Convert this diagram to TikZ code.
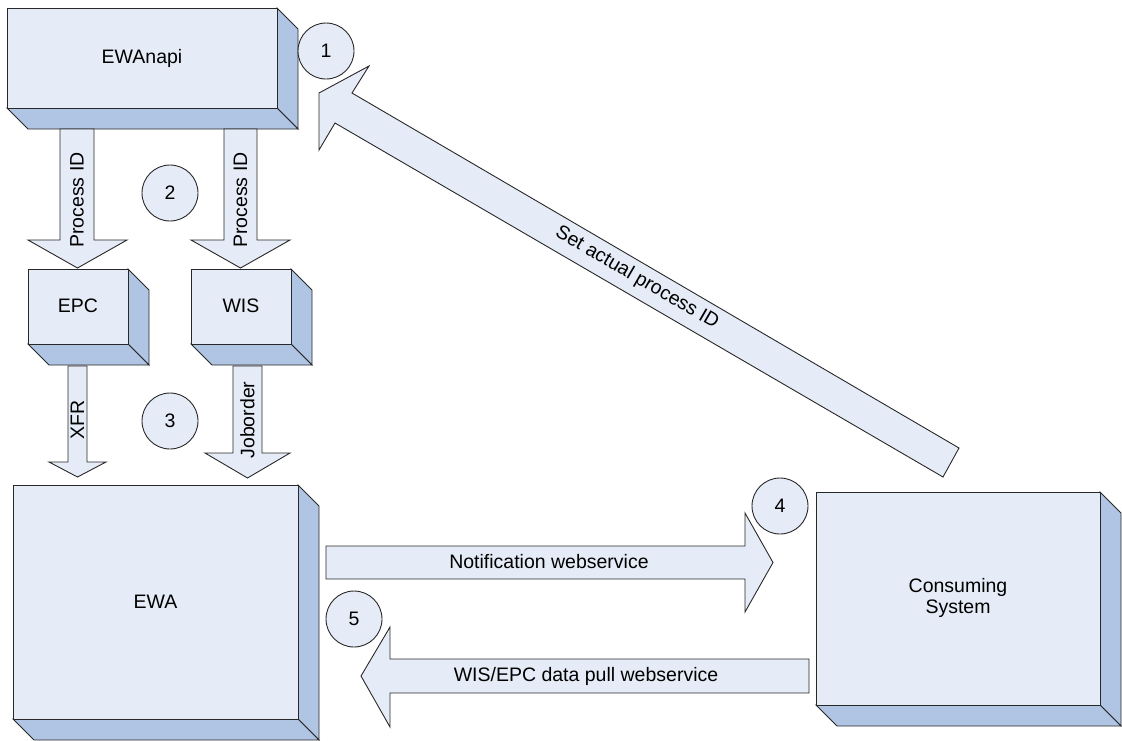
\documentclass[tikz,border=0pt]{standalone}
\usepackage{fontspec}
\setmainfont{Liberation Sans}
\definecolor{facecol}{RGB}{230,236,247}
\definecolor{sidecol}{RGB}{176,197,227}
\definecolor{linecol}{RGB}{40,40,40}
\begin{document}
\begin{tikzpicture}[x=1pt,y=-1pt,
  outl/.style={draw=linecol,line width=0.9pt,line join=miter},
  face/.style={outl,fill=facecol},
  side/.style={outl,fill=sidecol},
  blockarrow/.style={outl,fill=facecol},
  lbl/.style={font=\fontsize{19.5}{22}\selectfont,inner sep=0pt,align=center},
  numcirc/.style={circle,outl,fill=facecol,minimum size=56pt,inner sep=0pt,font=\fontsize{19.5}{22}\selectfont}
]
\useasboundingbox (0,0) rectangle (1122,740);

% 3D box macro: x1,y1,x2,y2,depth
\newcommand{\threedbox}[5]{%
  \draw[side] (#3,#2) -- (#3+#5,#2+#5) -- (#3+#5,#4+#5) -- (#3,#4) -- cycle;
  \draw[side] (#1,#4) -- (#3,#4) -- (#3+#5,#4+#5) -- (#1+#5,#4+#5) -- cycle;
  \draw[face] (#1,#2) rectangle (#3,#4);
}

% boxes
\threedbox{7}{8}{277}{108}{21}
\node[lbl] (ewanapi) at (142,58) {EWAnapi};
\threedbox{28}{269}{128}{344}{21}
\node[lbl] (epc) at (78,306) {EPC};
\threedbox{191}{269}{291}{344}{21}
\node[lbl] (wis) at (241,306) {WIS};
\threedbox{13}{485}{298}{719}{21}
\node[lbl] (ewa) at (155.5,602) {EWA};
\threedbox{816}{492}{1100}{705}{21}
\node[lbl] (cons) at (958,598) {Consuming\\[-1pt]System};

% block arrows
\draw[blockarrow] (60,129) -- (94,129) -- (94,240) -- (127,240) -- (77.5,268) -- (28,240) -- (60,240) -- cycle;
\node[lbl,rotate=90] (pid1) at (77,200) {Process ID};
\draw[blockarrow] (224,129) -- (257,129) -- (257,240) -- (290,240) -- (240.5,268) -- (191,240) -- (224,240) -- cycle;
\node[lbl,rotate=90] (pid2) at (240.5,200) {Process ID};

\draw[blockarrow] (68,366) -- (87,366) -- (87,462) -- (106,462) -- (77.5,477) -- (49,462) -- (68,462) -- cycle;
\node[lbl,rotate=90] (xfr) at (77.5,420) {XFR};
\draw[blockarrow] (233,366) -- (262,366) -- (262,453) -- (290,453) -- (247.5,478) -- (205,453) -- (233,453) -- cycle;
\node[lbl,rotate=90] (job) at (247.5,420) {Joborder};

\draw[blockarrow] (326,546) -- (745,546) -- (745,513) -- (773,562.5) -- (745,612) -- (745,579) -- (326,579) -- cycle;
\node[lbl] (notif) at (549,562) {Notification webservice};

\draw[blockarrow] (809,659) -- (390,659) -- (390,627) -- (361,676) -- (390,727) -- (390,693) -- (809,693) -- cycle;
\node[lbl] (pull) at (586,676) {WIS/EPC data pull webservice};

\draw[blockarrow] (959,448) -- (352,93) -- (369,66) -- (319,93) -- (319,150) -- (335,123) -- (943,477) -- cycle;
\node[lbl,rotate=-30.2] (setid) at (637,278) {Set actual process ID};

% numbered circles
\node[numcirc] (c1) at (326,51) {1};
\node[numcirc] (c2) at (170,193) {2};
\node[numcirc] (c3) at (170,421) {3};
\node[numcirc] (c4) at (780,506) {4};
\node[numcirc] (c5) at (354,619) {5};
\end{tikzpicture}
\end{document}
